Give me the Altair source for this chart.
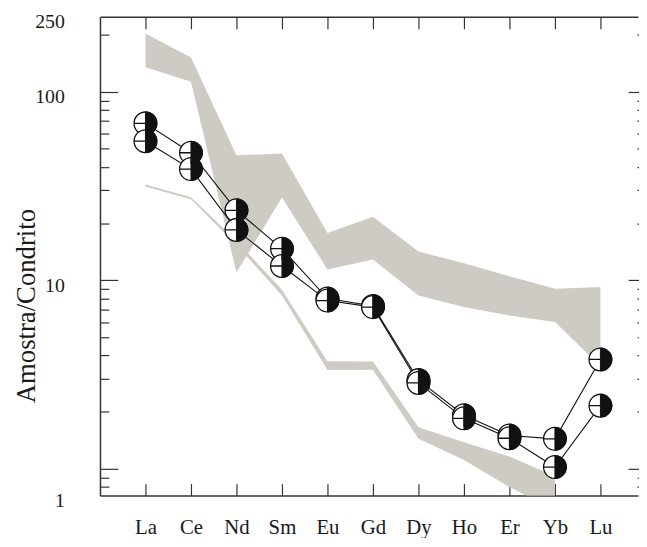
import altair as alt
import pandas as pd

elements = ["La", "Ce", "Nd", "Sm", "Eu", "Gd", "Dy", "Ho", "Er", "Yb", "Lu"]

sample_a = [68.0, 47.5, 23.5, 14.7, 8.0, 7.3, 2.95, 1.92, 1.50, 1.44, 3.80]
sample_b = [54.7, 38.9, 18.5, 11.9, 7.8, 7.2, 2.85, 1.85, 1.45, 1.02, 2.16]

upper_field_max = [204, 152, 46.0, 47.0, 17.8, 21.7, 14.2, 12.3, 10.5, 9.0, 9.2]
upper_field_min = [135, 113, 11.0, 27.5, 11.4, 12.9, 8.3, 7.2, 6.5, 6.0, 3.5]

lower_elements = ["La", "Ce", "Nd", "Sm", "Eu", "Gd", "Dy", "Ho", "Er", "Yb"]
lower_field_max = [32.2, 27.6, 16.2, 8.9, 3.72, 3.70, 1.66, 1.38, 1.16, 0.91]
lower_field_min = [31.4, 26.9, 15.4, 8.3, 3.34, 3.35, 1.44, 1.11, 0.80, 0.60]

y_ticks_major = [1, 10, 100]
y_ticks_minor = [0.8, 0.9, 2, 3, 4, 5, 6, 7, 8, 9, 20, 30, 40, 50, 60, 70, 80, 90, 200]
y_labels = [0.72, 10, 100, 250]

W, H = 544, 484
GRAY = "#cecbc5"
FONT = "Liberation Serif"

idx = {e: i for i, e in enumerate(elements)}
upper_df = pd.DataFrame({"i": [idx[e] for e in elements], "lo": upper_field_min, "hi": upper_field_max})
lower_df = pd.DataFrame({"i": [idx[e] for e in lower_elements], "lo": lower_field_min, "hi": lower_field_max})
pts = pd.DataFrame(
    [{"i": idx[e], "v": v, "s": "A"} for e, v in zip(elements, sample_a)]
    + [{"i": idx[e], "v": v, "s": "B"} for e, v in zip(elements, sample_b)]
)

xs = alt.Scale(domain=[-1, W / 46 - 1], nice=False, zero=False)
ys = alt.Scale(type="log", domain=[0.72, 250], nice=False)

label_arr = "[" + ",".join("'%s'" % e for e in elements) + "]"
major_test = " || ".join("datum.value === %s" % v for v in y_ticks_major)
ytick_size = {"condition": {"test": major_test, "value": 18}, "value": 9}
all_y_ticks = sorted(y_ticks_major + y_ticks_minor)

# axes: labels + frame
x_lab_axis = alt.Axis(orient="bottom", values=list(range(len(elements))), labelExpr=label_arr + "[datum.value]",
                      ticks=False, tickSize=0, grid=False, title=None, labelFont=FONT, labelFontSize=21,
                      labelColor="#1a1a1a", labelPadding=21, labelBaseline="top", domainColor="#333",
                      domainWidth=1.5, labelFlush=False, labelOverlap=False)
y_lab_axis = alt.Axis(orient="left", values=y_labels,
                      labelExpr="datum.value < 1 ? '1' : format(datum.value, 'd')",
                      ticks=False, tickSize=0, grid=False, title="Amostra/Condrito", titleFont=FONT,
                      titleFontSize=27, titleFontWeight="normal", titleColor="#1a1a1a", titleX=-60, titleY=292,
                      labelFont=FONT, labelFontSize=20, labelColor="#1a1a1a", labelPadding=36,
                      labelAlign="right", labelOffset=5,
                      domainColor="#333", domainWidth=1.5, labelOverlap=False, labelFlush=False)
# inward tick axes
x_tick_bottom = alt.Axis(orient="top", offset=-H, values=list(range(len(elements))), labels=False, tickSize=12,
                         tickColor="#333", tickWidth=1.2, grid=False, title=None, domain=False)
x_tick_top = alt.Axis(orient="bottom", offset=-H, values=list(range(len(elements))), labels=False, tickSize=12,
                      tickColor="#333", tickWidth=1.2, grid=False, title=None, domainColor="#333", domainWidth=1.5)
y_tick_left = alt.Axis(orient="right", offset=-W, values=all_y_ticks, labels=False, tickSize=ytick_size,
                       tickColor="#333", tickWidth=1.2, grid=False, title=None, domain=False)
y_tick_right = alt.Axis(orient="left", offset=-(W + 8), values=all_y_ticks, labels=False, tickSize=ytick_size,
                        tickColor="#333", tickWidth=1.2, grid=False, title=None, domain=False)

upper = alt.Chart(upper_df).mark_area(color=GRAY, opacity=1, clip=True).encode(
    x=alt.X("i:Q", scale=xs, axis=x_lab_axis),
    y=alt.Y("lo:Q", scale=ys, axis=y_lab_axis),
    y2="hi:Q",
)
lower = alt.Chart(lower_df).mark_area(color=GRAY, opacity=1, clip=True).encode(
    x=alt.X("i:Q", scale=xs, axis=x_tick_bottom),
    y=alt.Y("lo:Q", scale=ys, axis=y_tick_left),
    y2="hi:Q",
)
lines = alt.Chart(pts).mark_line(color="#111", strokeWidth=1.1, clip=True).encode(
    x=alt.X("i:Q", scale=xs, axis=x_tick_top),
    y=alt.Y("v:Q", scale=ys, axis=y_tick_right),
    detail="s:N",
)
circle_path = "M-1,0 A1,1 0 1,1 1,0 A1,1 0 1,1 -1,0 Z M-1,0 L0,0"
half_path = "M0,-1 A1,1 0 0,1 0,1 Z"
circles = alt.Chart(pts).mark_point(shape=circle_path, size=530, filled=True, fill="white", stroke="#111",
                                      strokeWidth=1.3, opacity=1).encode(
    x=alt.X("i:Q", scale=xs, axis=None),
    y=alt.Y("v:Q", scale=ys, axis=None),
)
halves = alt.Chart(pts).mark_point(shape=half_path, size=530, filled=True, fill="#111", stroke="#111",
                                     strokeWidth=1.0, opacity=1).encode(
    x=alt.X("i:Q", scale=xs, axis=None),
    y=alt.Y("v:Q", scale=ys, axis=None),
)

chart = (
    alt.layer(upper, lower, lines, circles, halves)
    .resolve_axis(x="independent", y="independent")
    .properties(width=W, height=H, padding={"left": 93, "top": 6, "right": 1, "bottom": 40},
                autosize=alt.AutoSizeParams(type="none"))
    .configure_view(stroke=None)
)

chart.save("out.html", embed_options={"renderer": "svg", "actions": False})
